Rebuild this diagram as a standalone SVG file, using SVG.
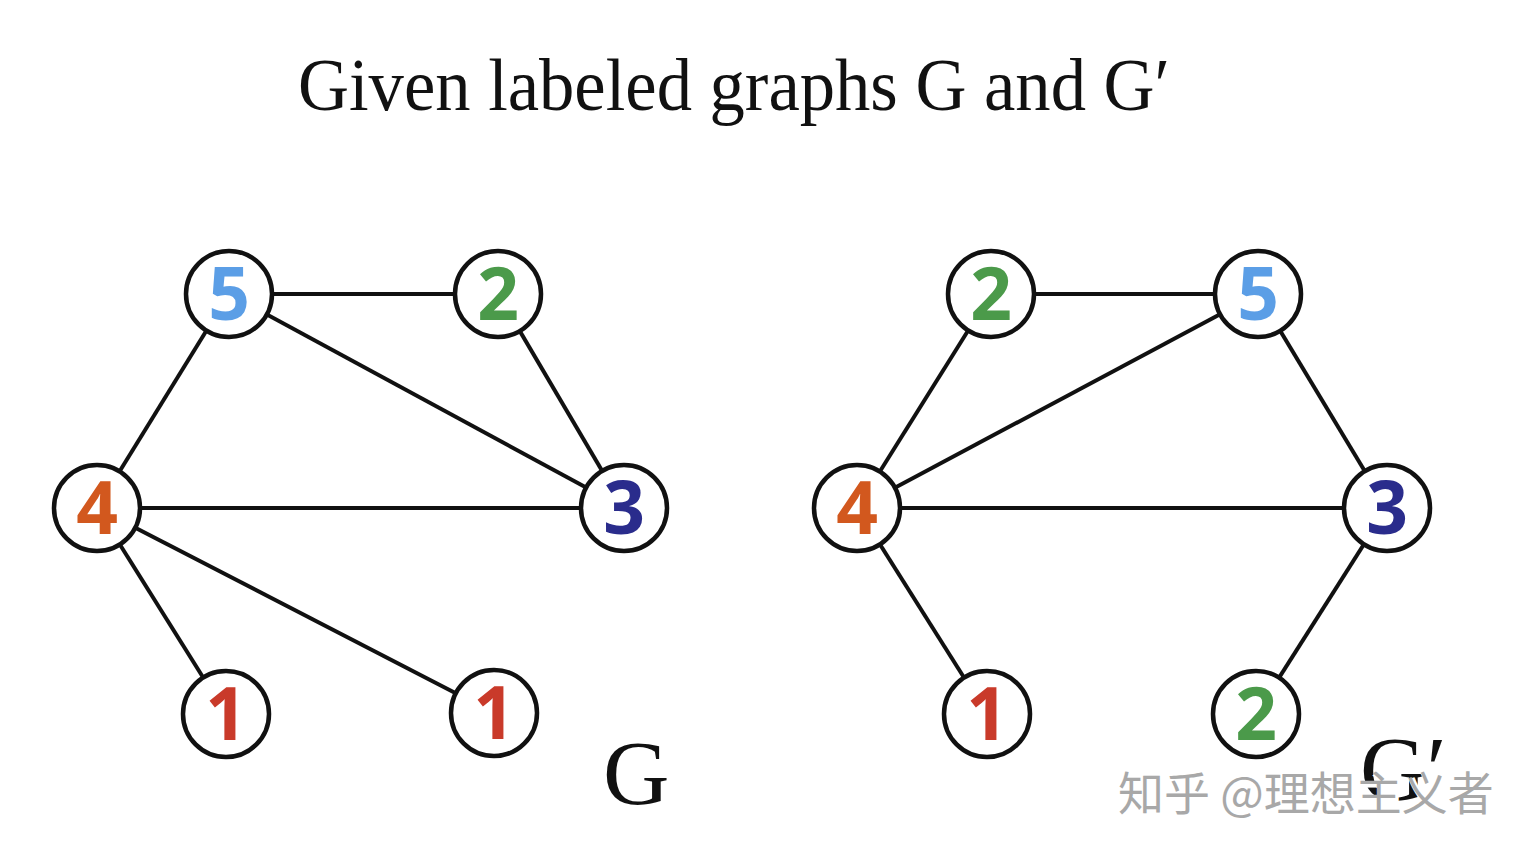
<svg xmlns="http://www.w3.org/2000/svg" width="1530" height="856" viewBox="0 0 1530 856">
<style>
.edge{stroke:#111;stroke-width:4;fill:none}
.node circle{fill:#fff;stroke:#111;stroke-width:4.5}
.node text{font-family:"Open Sans","Liberation Sans",sans-serif;font-weight:700;font-size:73px;text-anchor:middle}
.serif{font-family:"Liberation Serif","Times New Roman",serif;fill:#111}
.c5{fill:#5b9ee6}.c2{fill:#4b9a4a}.c4{fill:#d2581e}.c3{fill:#2a2c8c}.c1{fill:#c93a2a}
</style>
<rect width="1530" height="856" fill="#fff"/>
<text class="serif" x="298" y="110" font-size="74" textLength="872" lengthAdjust="spacingAndGlyphs">Given labeled graphs G and G′</text>
<g id="connectors">
<line class="edge" x1="229" y1="294" x2="498" y2="294"/>
<line class="edge" x1="229" y1="294" x2="97" y2="508"/>
<line class="edge" x1="229" y1="294" x2="624" y2="508"/>
<line class="edge" x1="498" y1="294" x2="624" y2="508"/>
<line class="edge" x1="97" y1="508" x2="624" y2="508"/>
<line class="edge" x1="97" y1="508" x2="226" y2="714"/>
<line class="edge" x1="97" y1="508" x2="494" y2="713"/>
<line class="edge" x1="991" y1="294" x2="1258" y2="294"/>
<line class="edge" x1="991" y1="294" x2="857" y2="508"/>
<line class="edge" x1="1258" y1="294" x2="857" y2="508"/>
<line class="edge" x1="1258" y1="294" x2="1387" y2="508"/>
<line class="edge" x1="857" y1="508" x2="1387" y2="508"/>
<line class="edge" x1="857" y1="508" x2="987" y2="714"/>
<line class="edge" x1="1387" y1="508" x2="1256" y2="714"/>
</g>
<g id="g-n5" class="node"><circle cx="229" cy="294" r="43"/><text class="c5" x="229" y="320">5</text></g>
<g id="g-n2" class="node"><circle cx="498" cy="294" r="43"/><text class="c2" x="498" y="320">2</text></g>
<g id="g-n4" class="node"><circle cx="97" cy="508" r="43"/><text class="c4" x="97" y="534">4</text></g>
<g id="g-n3" class="node"><circle cx="624" cy="508" r="43"/><text class="c3" x="624" y="534">3</text></g>
<g id="g-n1a" class="node"><circle cx="226" cy="714" r="43"/><text class="c1" x="226" y="740">1</text></g>
<g id="g-n1b" class="node"><circle cx="494" cy="713" r="43"/><text class="c1" x="494" y="739">1</text></g>
<g id="h-n2" class="node"><circle cx="991" cy="294" r="43"/><text class="c2" x="991" y="320">2</text></g>
<g id="h-n5" class="node"><circle cx="1258" cy="294" r="43"/><text class="c5" x="1258" y="320">5</text></g>
<g id="h-n4" class="node"><circle cx="857" cy="508" r="43"/><text class="c4" x="857" y="534">4</text></g>
<g id="h-n3" class="node"><circle cx="1387" cy="508" r="43"/><text class="c3" x="1387" y="534">3</text></g>
<g id="h-n1" class="node"><circle cx="987" cy="714" r="43"/><text class="c1" x="987" y="740">1</text></g>
<g id="h-n2b" class="node"><circle cx="1256" cy="714" r="43"/><text class="c2" x="1256" y="740">2</text></g>
<text class="serif" x="603" y="804" font-size="92">G</text>
<text class="serif" x="1360" y="800" font-size="92">G′</text>
<g id="watermark" font-family="'Noto Sans CJK SC',sans-serif" font-size="46">
<text x="1120" y="812" fill="#fff" stroke="#fff" stroke-width="3">知乎 @理想主义者</text>
<text x="1118" y="810" fill="#a8a8a8">知乎 @理想主义者</text>
</g>
</svg>
